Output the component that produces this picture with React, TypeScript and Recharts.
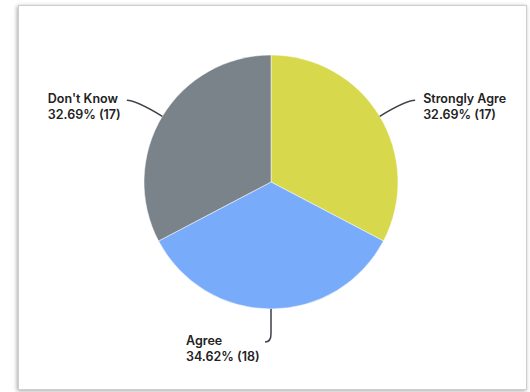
import { PieChart, Pie, Cell } from "recharts";

const categories = ["Strongly Agree", "Agree", "Don't Know"];
const counts = [17, 18, 17];
const colors = ["#d8d84c", "#78acfb", "#7b838a"];

const total = counts.reduce((a, b) => a + b, 0);
const data = categories.map((name, i) => ({ name, value: counts[i] }));

const RAD = Math.PI / 180;
const FONT = "Inter, 'Noto Sans', sans-serif";
// labels on the left/bottom are left-aligned blocks sitting this far before the line end
const LEFT_BLOCK = 79;

function renderLabel(props: any) {
  const { cx, cy, midAngle, outerRadius, name, value } = props;
  const cos = Math.cos(-midAngle * RAD);
  const sin = Math.sin(-midAngle * RAD);
  const x0 = cx + outerRadius * cos;
  const y0 = cy + outerRadius * sin;
  let d: string;
  let ex: number;
  let ey: number;
  let tx: number;

  if (Math.abs(cos) < 0.2) {
    // straight down, then a little hook to the left
    ey = y0 + 33;
    ex = x0 - 6;
    d = `M${x0},${y0} L${x0},${ey - 8} Q${x0},${ey} ${ex},${ey}`;
    tx = ex - LEFT_BLOCK;
  } else {
    const side = cos >= 0 ? 1 : -1;
    ey = y0 - 16;
    const r = (cy - ey) / -sin;
    const qx = cx + r * cos;
    ex = qx + side * 9;
    d = `M${x0},${y0} Q${qx},${ey} ${ex},${ey}`;
    tx = side > 0 ? ex + 8 : ex - LEFT_BLOCK;
  }

  const pct = ((value / total) * 100).toFixed(2);
  // the original shows this label cut short
  const label = name === "Strongly Agree" ? "Strongly Agre" : name;

  return (
    <g>
      <path d={d} fill="none" stroke="#3d4148" strokeWidth={1.5} />
      <text x={tx} y={ey + 3} textAnchor="start" fontFamily={FONT} fontSize={12.5} fontWeight={600} fill="#222">
        {label}
      </text>
      <text x={tx} y={ey + 18.5} textAnchor="start" fontFamily={FONT} fontSize={12.5} fontWeight={600} fill="#222">
        {`${pct}% (${value})`}
      </text>
    </g>
  );
}

export default function App() {
  return (
    <div style={{ position: "fixed", left: 0, top: 0, width: 530, height: 392, background: "#fff", overflow: "hidden" }}>
      <div
        style={{
          position: "absolute",
          left: 18,
          top: 5,
          width: 509,
          height: 385,
          boxSizing: "border-box",
          border: "1px solid #cfcfcf",
          boxShadow: "-1px 1px 4px rgba(0,0,0,0.35)",
          background: "#fff",
        }}
      />
      <div style={{ position: "absolute", left: 0, top: 0 }}>
        <PieChart width={530} height={392} margin={{ top: 0, right: 0, bottom: 0, left: 0 }}>
          <Pie
            data={data}
            dataKey="value"
            nameKey="name"
            cx={271}
            cy={182}
            outerRadius={127}
            startAngle={90}
            endAngle={-270}
            stroke="#ffffff"
            strokeWidth={0.5}
            label={renderLabel}
            labelLine={false}
            isAnimationActive={false}
          >
            {data.map((d, i) => (
              <Cell key={d.name} fill={colors[i]} />
            ))}
          </Pie>
        </PieChart>
      </div>
    </div>
  );
}
